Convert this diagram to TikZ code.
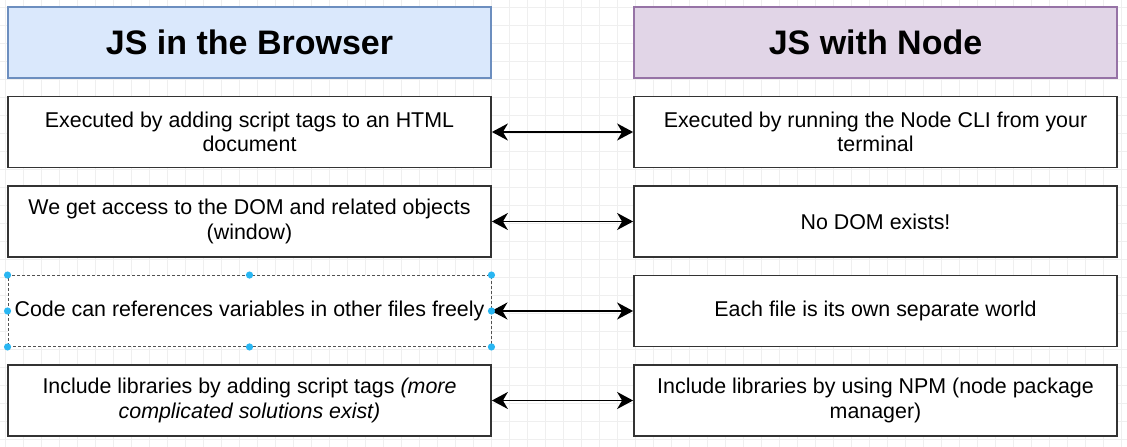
\documentclass[tikz,border=0pt]{standalone}
\usepackage{fontspec}
\setmainfont{Liberation Sans}
\usetikzlibrary{arrows.meta}
\definecolor{browserfill}{HTML}{DAE8FC}
\definecolor{browserline}{HTML}{6C8EBF}
\definecolor{nodefill}{HTML}{E1D5E7}
\definecolor{nodeline}{HTML}{9673A6}
\definecolor{boxline}{HTML}{333333}
\definecolor{handle}{HTML}{29B6F2}
\definecolor{gridgray}{HTML}{EFEFEF}
\tikzstyle{header} = [rectangle, minimum width=483pt, minimum height=71pt, text centered, line width=1.2pt, font=\fontsize{34}{40}\selectfont\bfseries]
\tikzstyle{fact} = [rectangle, minimum width=483pt, minimum height=71pt, align=center, draw=boxline, fill=white, line width=1.8pt, font=\fontsize{21.4}{24.5}\selectfont]
\tikzstyle{arrow} = [line width=1.8pt, {Stealth[length=16pt,width=17pt,inset=5pt]}-{Stealth[length=16pt,width=17pt,inset=5pt]}]
\tikzstyle{gridline} = [gridgray, line width=0.7pt]

\begin{document}
\begin{tikzpicture}[x=1pt, y=1pt, node distance=89.5pt]
\useasboundingbox (0,0) rectangle (1127,447);
\fill [white] (0,0) rectangle (1127,447);
% background grid
\foreach \gx in {0,...,62} \draw [gridline] (5.3+18*\gx,0) -- (5.3+18*\gx,447);
\foreach \gy in {0,...,24} \draw [gridline] (0,7.7+18*\gy) -- (1127,7.7+18*\gy);

\node (webhead) [header, fill=browserfill, draw=browserline] at (249.5,404.5) {JS in the Browser};
\node (web1) [fact, below of=webhead] {Executed by adding script tags to an HTML\\document};
\node (web2) [fact, below of=web1] {We get access to the DOM and related objects\\(window)};
\node (web3) [fact, below of=web2, draw=boxline!85, line width=0.9pt, densely dashed] {Code can references variables in other files freely};
\node (web4) [fact, below of=web3] {Include libraries by adding script tags \textit{(more}\\\textit{complicated solutions exist)}};

\node (nodehead) [header, fill=nodefill, draw=nodeline, right of=webhead, xshift=536.5pt] {JS with Node};
\node (node1) [fact, below of=nodehead] {Executed by running the Node CLI from your\\terminal};
\node (node2) [fact, below of=node1] {No DOM exists!};
\node (node3) [fact, below of=node2] {Each file is its own separate world};
\node (node4) [fact, below of=node3] {Include libraries by using NPM (node package\\manager)};

\draw [arrow] (web1) -- (node1);
\draw [arrow] (web2) -- (node2);
\draw [arrow] (web3) -- (node3);
\draw [arrow] (web4) -- (node4);

% selection handles
\foreach \a in {north west, north, north east, east, south east, south, south west, west}
  \fill [handle] (web3.\a) circle (3.6pt);

\end{tikzpicture}
\end{document}
